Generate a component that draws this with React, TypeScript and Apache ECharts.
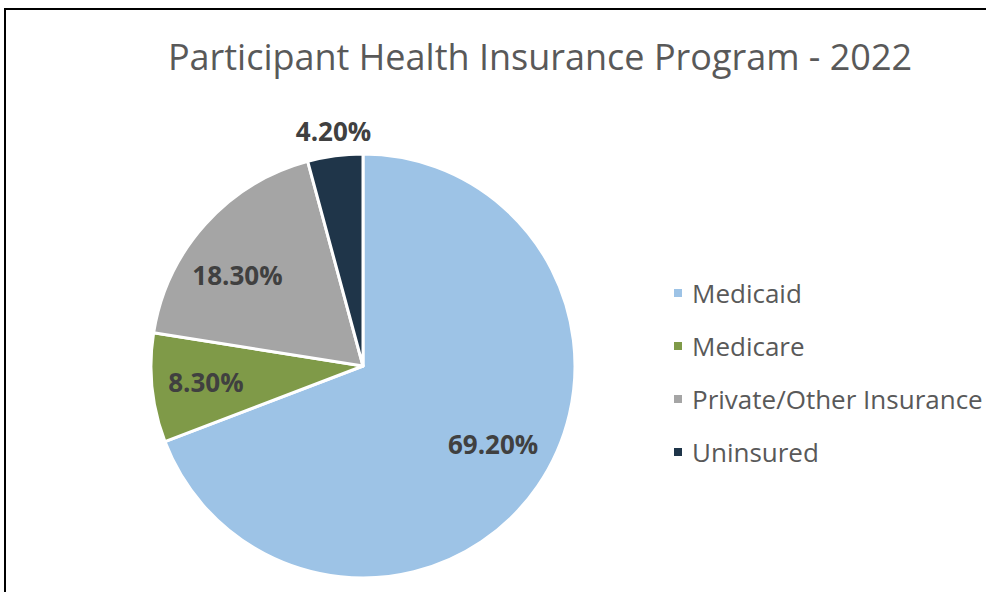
import React, { useEffect, useRef } from "react";
import * as echarts from "echarts";

const categories = ["Medicaid", "Medicare", "Private/Other Insurance", "Uninsured"];
const values = [69.2, 8.3, 18.3, 4.2];
const colors = ["#9DC3E6", "#7F9A48", "#A5A5A5", "#1F3549"];
const titleText = "Participant Health Insurance Program - 2022";

export default function App() {
  const ref = useRef<HTMLDivElement>(null);
  useEffect(() => {
    if (!ref.current) return;
    const chart = echarts.init(ref.current, null, { renderer: "svg" });
    const font = "'Open Sans', Lato, sans-serif";
    const pieData = categories.map((name, i) => ({
      name,
      value: values[i],
      itemStyle: { color: colors[i] },
    }));
    const labelStyle = {
      formatter: (p: any) => p.value.toFixed(2) + "%",
      fontFamily: font,
      fontSize: 26,
      fontWeight: "bold",
      color: "#404040",
    };
    const labelOffsets = [[0, -12], [0, 0], [-8, 15], [0, 0]];
    const insideLabelData = categories.map((name, i) => ({
      name,
      value: values[i],
      label: { show: i !== 3, offset: labelOffsets[i] },
    }));
    const outsideLabelData = categories.map((name, i) => ({
      name,
      value: values[i],
      label: { show: i === 3, offset: [2, 2] },
    }));
    const transparent = { color: "rgba(0,0,0,0)" };
    chart.setOption({
      animation: false,
      backgroundColor: "#ffffff",
      title: {
        text: titleText,
        left: 535,
        top: 33,
        textAlign: "center",
        textStyle: { fontFamily: font, fontSize: 36, fontWeight: "normal", color: "#595959" },
      },
      legend: {
        orient: "vertical",
        left: 667,
        top: 275,
        itemWidth: 10,
        itemHeight: 10,
        itemGap: 27,
        icon: "rect",
        data: categories,
        textStyle: { fontFamily: font, fontSize: 26, color: "#595959", padding: [0, 0, 0, 4] },
      },
      graphic: [
        {
          type: "rect",
          shape: { x: 5, y: 9, width: 1000, height: 620 },
          style: { fill: "none", stroke: "#000000", lineWidth: 2 },
          silent: true,
        },
      ],
      series: [
        {
          type: "pie",
          center: [363, 366],
          radius: 212,
          startAngle: 90,
          clockwise: true,
          data: pieData,
          label: { show: false },
          labelLine: { show: false },
          itemStyle: { borderColor: "#ffffff", borderWidth: 3 },
          emphasis: { disabled: true },
        },
        {
          type: "pie",
          center: [363, 366],
          radius: [98, 212],
          startAngle: 90,
          clockwise: true,
          silent: true,
          data: insideLabelData,
          itemStyle: transparent,
          label: { ...labelStyle, position: "inside" },
          labelLine: { show: false },
          emphasis: { disabled: true },
        },
        {
          type: "pie",
          center: [363, 366],
          radius: [212, 260],
          startAngle: 90,
          clockwise: true,
          silent: true,
          data: outsideLabelData,
          itemStyle: transparent,
          label: { ...labelStyle, position: "inside" },
          labelLine: { show: false },
          emphasis: { disabled: true },
        },
      ],
    });
    return () => chart.dispose();
  }, []);
  return (
    <div
      ref={ref}
      style={{ position: "fixed", left: 0, top: 0, width: 986, height: 592 }}
    />
  );
}
